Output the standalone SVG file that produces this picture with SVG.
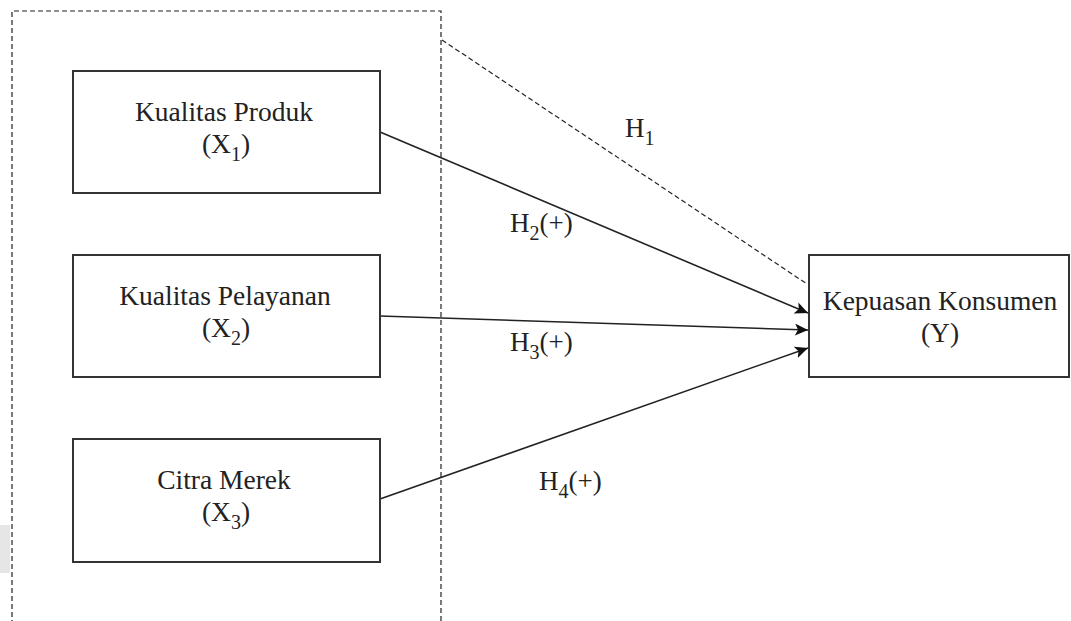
<svg xmlns="http://www.w3.org/2000/svg" width="1071" height="621" viewBox="0 0 1071 621">
<style>
.box{fill:#fff;stroke:#333;stroke-width:2}
.t{font-family:"Liberation Serif","Times New Roman",serif;font-size:27.5px;fill:#222;text-anchor:middle}
.h{font-family:"Liberation Serif","Times New Roman",serif;font-size:27px;fill:#222}
.s{font-size:20px}
.conn{stroke:#222;stroke-width:1.6;fill:none}
.dash{stroke:#222;stroke-width:1.2;fill:none;stroke-dasharray:5 3}
</style>
<defs>
<marker id="arr" markerUnits="userSpaceOnUse" markerWidth="14" markerHeight="12" viewBox="0 0 14 12" refX="13" refY="6" orient="auto">
<path d="M0,0 L13,6 L0,12 L3,6 z" fill="#111"/>
</marker>
</defs>
<rect width="1071" height="621" fill="#fff"/>
<rect x="0" y="525" width="10" height="48" fill="#e6e6e6"/>
<g id="group-frame">
<path class="dash" d="M12,625 V11 H441 V625"/>
</g>
<g id="connectors">
<path class="dash" d="M442,40 L807,284" stroke-dasharray="4 3"/>
<path class="conn" d="M380,132 L808,313" marker-end="url(#arr)"/>
<path class="conn" d="M380,316 L808,330" marker-end="url(#arr)"/>
<path class="conn" d="M380,499 L808,348" marker-end="url(#arr)"/>
<text class="h" x="625" y="137">H<tspan class="s" dy="8">1</tspan></text>
<text class="h" x="510" y="232">H<tspan class="s" dy="8">2</tspan><tspan dy="-8">(+)</tspan></text>
<text class="h" x="510" y="351">H<tspan class="s" dy="8">3</tspan><tspan dy="-8">(+)</tspan></text>
<text class="h" x="539" y="490">H<tspan class="s" dy="8">4</tspan><tspan dy="-8">(+)</tspan></text>
</g>
<g id="node-x1">
<rect class="box" x="73" y="71" width="307" height="122"/>
<text class="t" x="224" y="121">Kualitas Produk</text>
<text class="t" x="226" y="153">(X<tspan class="s" dy="8">1</tspan><tspan dy="-8">)</tspan></text>
</g>
<g id="node-x2">
<rect class="box" x="73" y="255" width="307" height="122"/>
<text class="t" x="225" y="305">Kualitas Pelayanan</text>
<text class="t" x="226" y="337">(X<tspan class="s" dy="8">2</tspan><tspan dy="-8">)</tspan></text>
</g>
<g id="node-x3">
<rect class="box" x="73" y="439" width="307" height="123"/>
<text class="t" x="224" y="489">Citra Merek</text>
<text class="t" x="226" y="521">(X<tspan class="s" dy="8">3</tspan><tspan dy="-8">)</tspan></text>
</g>
<g id="node-y">
<rect class="box" x="809" y="255" width="260" height="122"/>
<text class="t" x="940" y="310">Kepuasan Konsumen</text>
<text class="t" x="940" y="342">(Y)</text>
</g>
</svg>
